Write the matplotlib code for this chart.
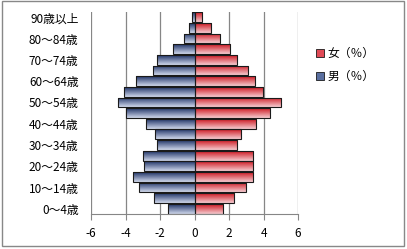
import numpy as np
import matplotlib.pyplot as plt
from matplotlib.patches import Patch, Rectangle
from matplotlib.colors import LinearSegmentedColormap

plt.rcParams['font.family'] = ['Noto Sans CJK JP', 'DejaVu Sans']

# age groups, bottom to top
age_groups = ['0～4歳', '5～9歳', '10～14歳', '15～19歳', '20～24歳', '25～29歳',
              '30～34歳', '35～39歳', '40～44歳', '45～49歳', '50～54歳', '55～59歳',
              '60～64歳', '65～69歳', '70～74歳', '75～79歳', '80～84歳', '85～89歳',
              '90歳以上']
male = [-1.52, -2.33, -3.19, -3.58, -2.90, -3.00, -2.15, -2.27, -2.83, -4.00,
        -4.46, -4.06, -3.42, -2.38, -2.15, -1.23, -0.62, -0.31, -0.12]
female = [1.66, 2.30, 3.00, 3.41, 3.41, 3.41, 2.44, 2.71, 3.56, 4.40,
          5.03, 3.99, 3.49, 3.12, 2.48, 2.07, 1.45, 0.97, 0.44]
x_ticks = [-6, -4, -2, 0, 2, 4, 6]

fig = plt.figure(figsize=(4.07, 2.49), dpi=100)
ax = fig.add_axes([0.2236, 0.14, 0.5086, 0.812])

y = np.arange(len(age_groups))


def grad_fill(bars, top, bottom):
    cmap = LinearSegmentedColormap.from_list('g', [bottom, top])
    grad = np.linspace(0, 1, 64).reshape(-1, 1)
    for b in bars:
        x0, y0 = b.get_x(), b.get_y()
        w, h = b.get_width(), b.get_height()
        im = ax.imshow(grad, cmap=cmap, extent=(x0, x0 + w, y0, y0 + h),
                       origin='lower', aspect='auto', zorder=2)
        im.set_clip_path(b)


bars_m = ax.barh(y, male, height=0.92, color='none', edgecolor='#1a1a1a',
                 linewidth=0.8, zorder=3)
bars_f = ax.barh(y, female, height=0.92, color='none', edgecolor='#1a1a1a',
                 linewidth=0.8, zorder=3)
grad_fill(bars_m, '#1f3366', '#d0d8ec')
grad_fill(bars_f, '#cc1822', '#f6ccd0')

ax.set_xlim(-6, 6)
ax.set_ylim(-0.5, len(age_groups) - 0.5)
ax.set_xticks(x_ticks)
ax.set_xticklabels([str(t) for t in x_ticks], fontsize=8.5)
ax.set_yticks(y[::2])
ax.set_yticklabels(age_groups[::2], fontsize=8.5)
ax.tick_params(axis='y', length=0, pad=9)
ax.tick_params(axis='x', length=4, color='#868686', pad=5)

for s in ['top', 'right', 'left']:
    ax.spines[s].set_visible(False)
ax.spines['bottom'].set_color('#868686')
for t in x_ticks:
    ax.axvline(t, color='#868686', linewidth=0.9, zorder=1)

handles = [Patch(facecolor='#e04a56', edgecolor='#1a1a1a', linewidth=0.6),
           Patch(facecolor='#5a6fa0', edgecolor='#1a1a1a', linewidth=0.6)]
fig.legend(handles, ['女（％）', '男（％）'], loc='upper left',
           bbox_to_anchor=(0.75, 0.855), frameon=False, fontsize=8.5,
           handlelength=0.65, handleheight=0.65, handletextpad=0.3,
           labelspacing=0.85)

fig.patches.append(Rectangle((0.0037, 0.012), 0.989, 0.982,
                             transform=fig.transFigure, fill=False,
                             edgecolor='#888888', linewidth=1))

fig.savefig('out.png', dpi=100)
